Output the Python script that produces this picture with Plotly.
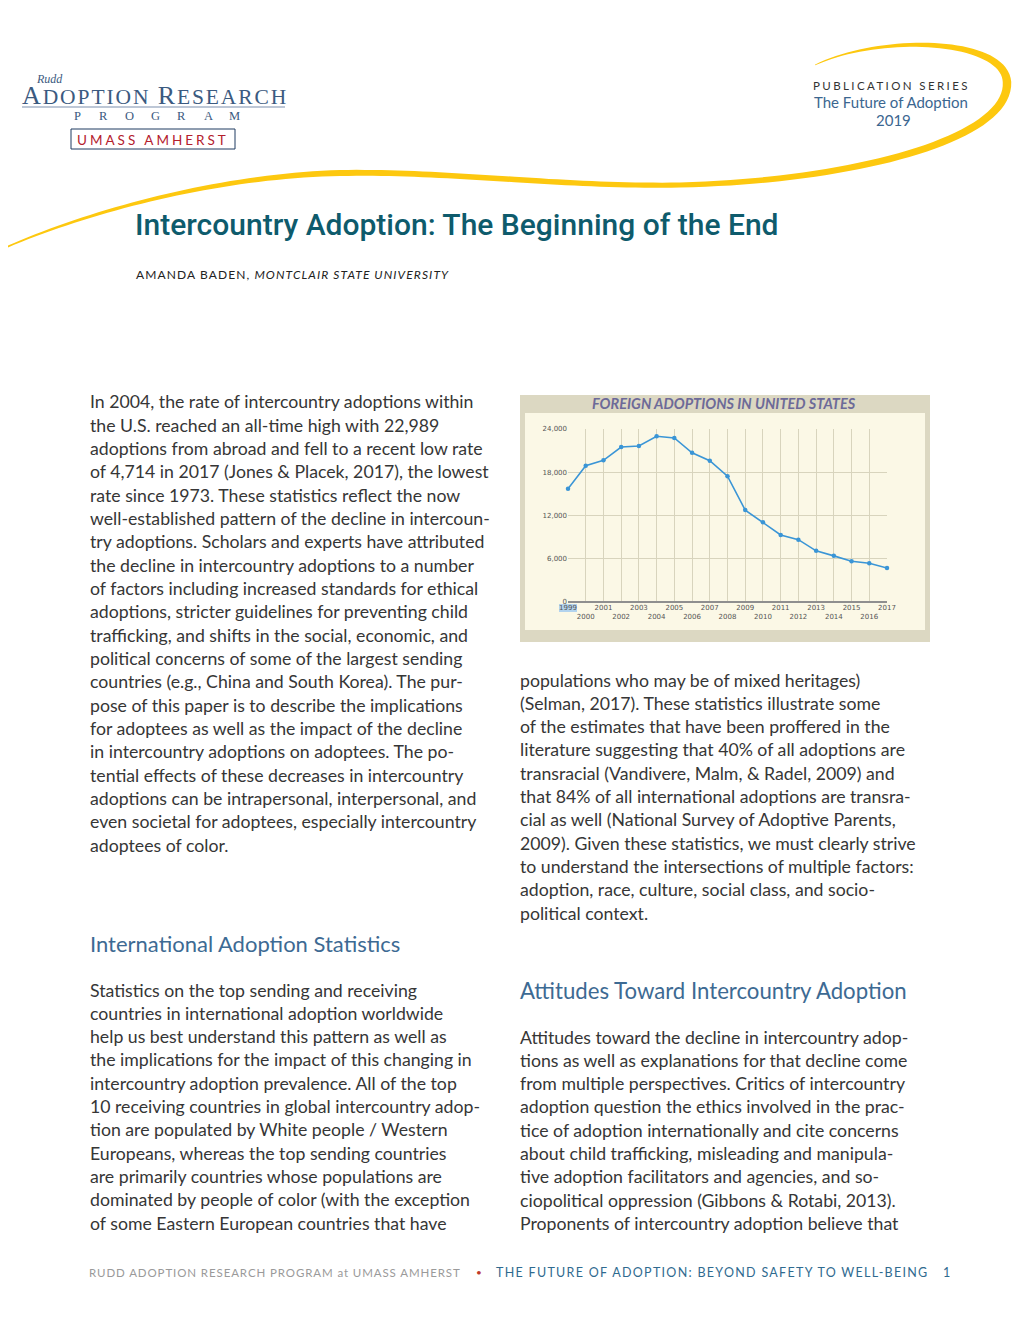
import plotly.graph_objects as go

# page size as seen in the browser; the figure sits inside the 8px body margin
PAGE_W, PAGE_H = 1020, 1320
OFF = 8
W, H = PAGE_W - 2 * OFF, PAGE_H - 2 * OFF

# chart data
years = list(range(1999, 2018))
adoptions = [15700, 18900, 19650, 21500, 21650, 22989, 22750, 20700, 19600, 17450,
             12750, 11050, 9300, 8650, 7100, 6400, 5650, 5370, 4714]
y_ticks = [0, 6000, 12000, 18000, 24000]
y_tick_labels = ["0", "6,000", "12,000", "18,000", "24,000"]
x_tick_labels = [str(y) if y % 2 else "<br>" + str(y) for y in years]

chart_title = "FOREIGN ADOPTIONS IN UNITED STATES"
page_title = "Intercountry Adoption: The Beginning of the End"

left_col_1 = [
    "In 2004, the rate of intercountry adoptions within",
    "the U.S. reached an all-time high with 22,989",
    "adoptions from abroad and fell to a recent low rate",
    "of 4,714 in 2017 (Jones & Placek, 2017), the lowest",
    "rate since 1973. These statistics reflect the now",
    "well-established pattern of the decline in intercoun-",
    "try adoptions. Scholars and experts have attributed",
    "the decline in intercountry adoptions to a number",
    "of factors including increased standards for ethical",
    "adoptions, stricter guidelines for preventing child",
    "trafficking, and shifts in the social, economic, and",
    "political concerns of some of the largest sending",
    "countries (e.g., China and South Korea). The pur-",
    "pose of this paper is to describe the implications",
    "for adoptees as well as the impact of the decline",
    "in intercountry adoptions on adoptees. The po-",
    "tential effects of these decreases in intercountry",
    "adoptions can be intrapersonal, interpersonal, and",
    "even societal for adoptees, especially intercountry",
    "adoptees of color.",
]
left_col_2 = [
    "Statistics on the top sending and receiving",
    "countries in international adoption worldwide",
    "help us best understand this pattern as well as",
    "the implications for the impact of this changing in",
    "intercountry adoption prevalence. All of the top",
    "10 receiving countries in global intercountry adop-",
    "tion are populated by White people / Western",
    "Europeans, whereas the top sending countries",
    "are primarily countries whose populations are",
    "dominated by people of color (with the exception",
    "of some Eastern European countries that have",
]
right_col_1 = [
    "populations who may be of mixed heritages)",
    "(Selman, 2017). These statistics illustrate some",
    "of the estimates that have been proffered in the",
    "literature suggesting that 40% of all adoptions are",
    "transracial (Vandivere, Malm, & Radel, 2009) and",
    "that 84% of all international adoptions are transra-",
    "cial as well (National Survey of Adoptive Parents,",
    "2009). Given these statistics, we must clearly strive",
    "to understand the intersections of multiple factors:",
    "adoption, race, culture, social class, and socio-",
    "political context.",
]
right_col_2 = [
    "Attitudes toward the decline in intercountry adop-",
    "tions as well as explanations for that decline come",
    "from multiple perspectives. Critics of intercountry",
    "adoption question the ethics involved in the prac-",
    "tice of adoption internationally and cite concerns",
    "about child trafficking, misleading and manipula-",
    "tive adoption facilitators and agencies, and so-",
    "ciopolitical oppression (Gibbons & Rotabi, 2013).",
    "Proponents of intercountry adoption believe that",
]

BODY = "Lato"
TEXT_C = "#363636"
HEAD_C = "#3d6a93"
YELLOW = "#fdc80f"


# page pixel -> paper fraction
def px(x):
    return (x - OFF) / W


def py(y):
    return 1 - (y - OFF) / H


def txt(x, y, s, size, color, family=BODY, anchor="left", weight=None):
    f = dict(size=size, color=color, family=family)
    if weight:
        f["weight"] = weight
    return dict(x=px(x), y=py(y), xref="paper", yref="paper", text=s,
                showarrow=False, xanchor=anchor, yanchor="middle", font=f)


def swoosh(segments):
    # filled stroke with changing width along cubic segments (page pixels)
    top, bot = [], []
    for (p0, c1, c2, p1, w0, w1) in segments:
        n = 40
        for i in range(n + 1):
            t = i / n
            a, b, c, d = (1 - t) ** 3, 3 * (1 - t) ** 2 * t, 3 * (1 - t) * t ** 2, t ** 3
            x = a * p0[0] + b * c1[0] + c * c2[0] + d * p1[0]
            y = a * p0[1] + b * c1[1] + c * c2[1] + d * p1[1]
            dx = 3 * (1 - t) ** 2 * (c1[0] - p0[0]) + 6 * (1 - t) * t * (c2[0] - c1[0]) + 3 * t ** 2 * (p1[0] - c2[0])
            dy = 3 * (1 - t) ** 2 * (c1[1] - p0[1]) + 6 * (1 - t) * t * (c2[1] - c1[1]) + 3 * t ** 2 * (p1[1] - c2[1])
            ln = (dx * dx + dy * dy) ** 0.5 or 1
            nx, ny = -dy / ln, dx / ln
            w = (w0 + (w1 - w0) * t) / 2
            top.append((x + nx * w, y + ny * w))
            bot.append((x - nx * w, y - ny * w))
    pts = top + bot[::-1]
    path = "M " + " L ".join(f"{px(x):.5f},{py(y):.5f}" for x, y in pts) + " Z"
    return dict(type="path", path=path, xref="paper", yref="paper",
                fillcolor=YELLOW, line=dict(width=0), layer="below")


fig = go.Figure()

fig.add_trace(go.Scatter(
    x=years, y=adoptions, mode="lines+markers",
    line=dict(color="#3a95d6", width=1.6),
    marker=dict(color="#3a95d6", size=4.5),
    cliponaxis=False, hoverinfo="x+y",
))

shapes = [
    # chart frame
    dict(type="rect", xref="paper", yref="paper", x0=px(520), x1=px(930), y0=py(642), y1=py(395),
         fillcolor="#dcd8c2", line=dict(width=0), layer="below"),
    dict(type="rect", xref="paper", yref="paper", x0=px(525), x1=px(925), y0=py(630), y1=py(413),
         fillcolor="#fbf8e6", line=dict(width=0), layer="below"),
    dict(type="rect", xref="paper", yref="paper", x0=px(559), x1=px(577), y0=py(612), y1=py(604),
         fillcolor="#b2d3ee", line=dict(width=0), layer="below"),
    # logo
    dict(type="line", xref="paper", yref="paper", x0=px(22), x1=px(285), y0=py(107), y1=py(107),
         line=dict(color="#a7b5c9", width=1.5)),
    dict(type="rect", xref="paper", yref="paper", x0=px(71), x1=px(235), y0=py(149), y1=py(129),
         line=dict(color="#1f3b60", width=1)),
    # yellow swoosh
    swoosh([
        ((0, 250), (90, 210), (220, 176), (340, 173), 1.5, 6.0),
        ((340, 173), (450, 171), (560, 187), (680, 185), 6.0, 5.0),
        ((680, 185), (850, 181), (1010, 140), (1007, 82), 5.0, 8.5),
        ((1007, 82), (1004, 38), (880, 34), (815, 65), 8.5, 0.8),
    ]),
]

ann = []
# logo
ann.append(txt(34, 79, "<i>Rudd</i>", 12, "#3b5a80", "Liberation Serif"))
ann.append(txt(20, 95, "<span style='letter-spacing:1.9px'>A<span style='font-size:21.5px'>DOPTION </span>R"
               "<span style='font-size:21.5px'>ESEARCH</span></span>", 26, "#3b5a80", "Liberation Serif"))
for i, ch in enumerate("PROGRAM"):
    ann.append(txt(77 + i * 26.2, 116, ch, 12.5, "#3b5a80", "Liberation Serif", "center"))
ann.append(txt(153, 140, "<span style='letter-spacing:3px'>UMASS AMHERST</span>", 13.5,
               "#b3202c", "Lato", "center"))
# publication series
ann.append(txt(891, 85, "<span style='letter-spacing:2.4px'>PUBLICATION SERIES</span>", 11.5,
               "#333333", "Lato", "center"))
ann.append(txt(891, 102, "The Future of Adoption", 15, "#3b6690", "Lato", "center"))
ann.append(txt(893, 120, "2019", 15, "#3b6690", "Lato", "center"))
# title and author
ann.append(txt(133, 225, page_title, 30, "#0e5b6c", "Roboto", weight=500))
ann.append(txt(134, 274, "<span style='letter-spacing:1.1px'>AMANDA BADEN, <i>MONTCLAIR STATE UNIVERSITY</i></span>",
               12, "#222222", "Lato"))

LH = 23.33
for i, s in enumerate(left_col_1):
    ann.append(txt(88, 402 + i * LH, s, 17.7, TEXT_C))
ann.append(txt(88, 943, "International Adoption Statistics", 22, HEAD_C))
for i, s in enumerate(left_col_2):
    ann.append(txt(88, 990 + i * LH, s, 17.7, TEXT_C))
for i, s in enumerate(right_col_1):
    ann.append(txt(518, 680 + i * LH, s, 17.7, TEXT_C))
ann.append(txt(518, 990, "Attitudes Toward Intercountry Adoption", 22.2, HEAD_C))
for i, s in enumerate(right_col_2):
    ann.append(txt(518, 1037 + i * LH, s, 17.7, TEXT_C))

# chart title
ann.append(txt(724, 403, "<b><i>" + chart_title + "</i></b>", 14.5, "#6d6a98", "Lato", "center"))

# footer
ann.append(txt(87, 1272, "<span style='letter-spacing:0.9px'>RUDD ADOPTION RESEARCH PROGRAM at UMASS AMHERST</span>",
               11.5, "#9a9a9a", "Lato"))
ann.append(txt(479, 1272, "•", 10, "#c0392b", "Lato", "center"))
ann.append(txt(494, 1272, "<span style='letter-spacing:1.3px'>THE FUTURE OF ADOPTION: BEYOND SAFETY TO WELL-BEING</span>",
               12.5, "#2f6a8f", "Lato"))
ann.append(txt(946, 1272, "1", 12.5, "#2f6a8f", "Lato", "center"))

grid_c = "#d8d4bd"
fig.update_layout(
    width=W, height=H, autosize=False,
    margin=dict(l=0, r=0, t=0, b=0),
    paper_bgcolor="white", plot_bgcolor="#fbf8e6",
    showlegend=False,
    shapes=shapes, annotations=ann,
    xaxis=dict(domain=[px(568), px(887)], range=[1999, 2017], tickvals=years,
               ticktext=x_tick_labels, tickangle=0, showgrid=True, gridcolor=grid_c, gridwidth=1,
               zeroline=False, showline=False, ticks="", fixedrange=True, automargin=False,
               tickfont=dict(family="DejaVu Sans", size=7, color="#555555")),
    yaxis=dict(domain=[py(602), py(429)], range=[0, 24000], tickvals=y_ticks,
               ticktext=y_tick_labels, showgrid=True, gridcolor=grid_c, gridwidth=1,
               zeroline=True, zerolinecolor="#8f8f8f", zerolinewidth=2,
               ticks="", fixedrange=True, automargin=False,
               tickfont=dict(family="DejaVu Sans", size=7, color="#555555")),
)

fig.write_html("out.html", config={"displayModeBar": False})
